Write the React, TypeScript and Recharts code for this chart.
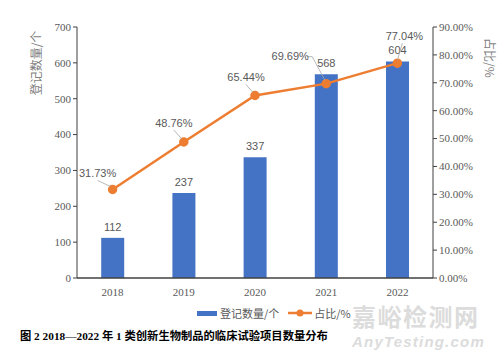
import React from "react";
import {
  ComposedChart,
  Bar,
  Line,
  XAxis,
  YAxis,
  LabelList,
} from "recharts";

const years = ["2018", "2019", "2020", "2021", "2022"];
const counts = [112, 237, 337, 568, 604];
const shares = [31.73, 48.76, 65.44, 69.69, 77.04];
const countTicks = [0, 100, 200, 300, 400, 500, 600, 700];
const shareTicks = [0, 10, 20, 30, 40, 50, 60, 70, 80, 90];

// label offsets for the percentage callouts (dx, dy from the point)
const shareLabelOffsets = [
  [-15, -15],
  [-10, -18],
  [-9, -17],
  [-36, -27],
  [7, -26],
];

const data = years.map((y, i) => ({ year: y, count: counts[i], share: shares[i] }));

const BLUE = "#4472C4";
const ORANGE = "#ED7D31";
const GREY = "#595959";
const tickFont = { fontSize: 11, fill: GREY, fontFamily: "Liberation Serif" };

function ShareLabel(props: any) {
  const { x, y, value, index } = props;
  const [dx, dy] = shareLabelOffsets[index];
  const lx = x + dx;
  const ly = y + dy;
  let leader = null;
  if (index === 3) {
    leader = (
      <polyline
        points={`${lx + 17},${ly} ${lx + 22},${ly} ${x - 1},${y - 3}`}
        fill="none"
        stroke="#a6a6a6"
        strokeWidth={0.8}
      />
    );
  } else {
    leader = (
      <line
        x1={lx + (dx < 0 ? 0 : -2)}
        y1={ly + 6}
        x2={x - (dx < 0 ? 2 : 0)}
        y2={y - 3}
        stroke="#a6a6a6"
        strokeWidth={0.8}
      />
    );
  }
  return (
    <g>
      {leader}
      <text
        x={lx}
        y={ly}
        textAnchor="middle"
        dominantBaseline="middle"
        fontSize={11}
        fill={GREY}
        fontFamily="Liberation Sans"
      >
        {value.toFixed(2)}%
      </text>
    </g>
  );
}

export default function App() {
  return (
    <div style={{ position: "absolute", left: 0, top: 0, width: 500, height: 352, background: "#fff" }}>
      <ComposedChart
        width={500}
        height={352}
        data={data}
        margin={{ top: 27, right: 0, bottom: 44, left: 0 }}
        barCategoryGap="34%"
      >
        <XAxis
          dataKey="year"
          height={30}
          tick={tickFont}
          tickLine={false}
          axisLine={{ stroke: "#404040", strokeWidth: 1.5 }}
          tickMargin={4}
        />
        <YAxis
          yAxisId="left"
          width={77}
          domain={[0, 700]}
          ticks={countTicks}
          tick={tickFont}
          tickSize={4}
          tickLine={{ stroke: "#404040" }}
          axisLine={{ stroke: "#404040" }}
        />
        <YAxis
          yAxisId="right"
          orientation="right"
          width={67}
          domain={[0, 90]}
          ticks={shareTicks}
          tickFormatter={(v: number) => `${v.toFixed(2)}%`}
          tick={tickFont}
          tickSize={4}
          tickLine={{ stroke: "#404040" }}
          axisLine={{ stroke: "#404040" }}
        />
        <Bar yAxisId="left" dataKey="count" fill={BLUE} isAnimationActive={false}>
          <LabelList
            dataKey="count"
            position="top"
            offset={7}
            style={{ fontSize: 11, fill: GREY, fontFamily: "Liberation Sans" }}
          />
        </Bar>
        <Line
          yAxisId="right"
          dataKey="share"
          stroke={ORANGE}
          strokeWidth={2.5}
          dot={{ r: 3.5, fill: ORANGE, stroke: ORANGE }}
          isAnimationActive={false}
        >
          <LabelList dataKey="share" content={ShareLabel} />
        </Line>
      </ComposedChart>

      {/* axis titles */}
      <div
        style={{
          position: "absolute",
          left: 35,
          top: 63,
          transform: "translate(-50%, -50%) rotate(-90deg)",
          fontSize: 12,
          color: "#7f7f7f",
          fontFamily: "Noto Sans CJK SC",
          whiteSpace: "nowrap",
        }}
      >
        登记数量/个
      </div>
      <div
        style={{
          position: "absolute",
          left: 490,
          top: 58,
          transform: "translate(-50%, -50%) rotate(90deg)",
          fontSize: 12,
          color: "#7f7f7f",
          fontFamily: "Noto Sans CJK SC",
          whiteSpace: "nowrap",
        }}
      >
        占比/%
      </div>

      {/* legend */}
      <div
        style={{
          position: "absolute",
          left: 197,
          top: 305,
          display: "flex",
          alignItems: "center",
          fontSize: 11,
          color: GREY,
          fontFamily: "Noto Sans CJK SC",
          whiteSpace: "nowrap",
          lineHeight: "16px",
        }}
      >
        <span style={{ display: "inline-block", width: 20, height: 5, background: BLUE, marginRight: 3 }} />
        <span>登记数量/个</span>
        <svg width={24} height={10} style={{ marginLeft: 9, marginRight: 2 }}>
          <line x1={0} y1={5} x2={24} y2={5} stroke={ORANGE} strokeWidth={2.5} />
          <circle cx={12} cy={5} r={3.5} fill={ORANGE} />
        </svg>
        <span>占比/%</span>
      </div>

      {/* caption */}
      <div
        style={{
          position: "absolute",
          left: 20,
          top: 327,
          fontSize: 11.3,
          fontWeight: "bold",
          color: "#000",
          fontFamily: "'Liberation Serif', 'Noto Sans CJK SC'",
          whiteSpace: "nowrap",
        }}
      >
        图 2 2018—2022 年 1 类创新生物制品的临床试验项目数量分布
      </div>

      {/* watermark */}
      <div
        style={{
          position: "absolute",
          left: 352,
          top: 305,
          fontSize: 24,
          fontWeight: "bold",
          color: "#dcdcdc",
          fontFamily: "Noto Sans CJK SC",
          whiteSpace: "nowrap",
          letterSpacing: 1.5,
          lineHeight: "22px",
        }}
      >
        嘉峪检测网
      </div>
      <div
        style={{
          position: "absolute",
          left: 352,
          top: 335,
          fontSize: 15,
          fontWeight: "bold",
          fontStyle: "italic",
          color: "#dcdcdc",
          fontFamily: "Liberation Sans",
          whiteSpace: "nowrap",
          letterSpacing: 1.2,
          lineHeight: "14px",
        }}
      >
        AnyTesting.com
      </div>
    </div>
  );
}
